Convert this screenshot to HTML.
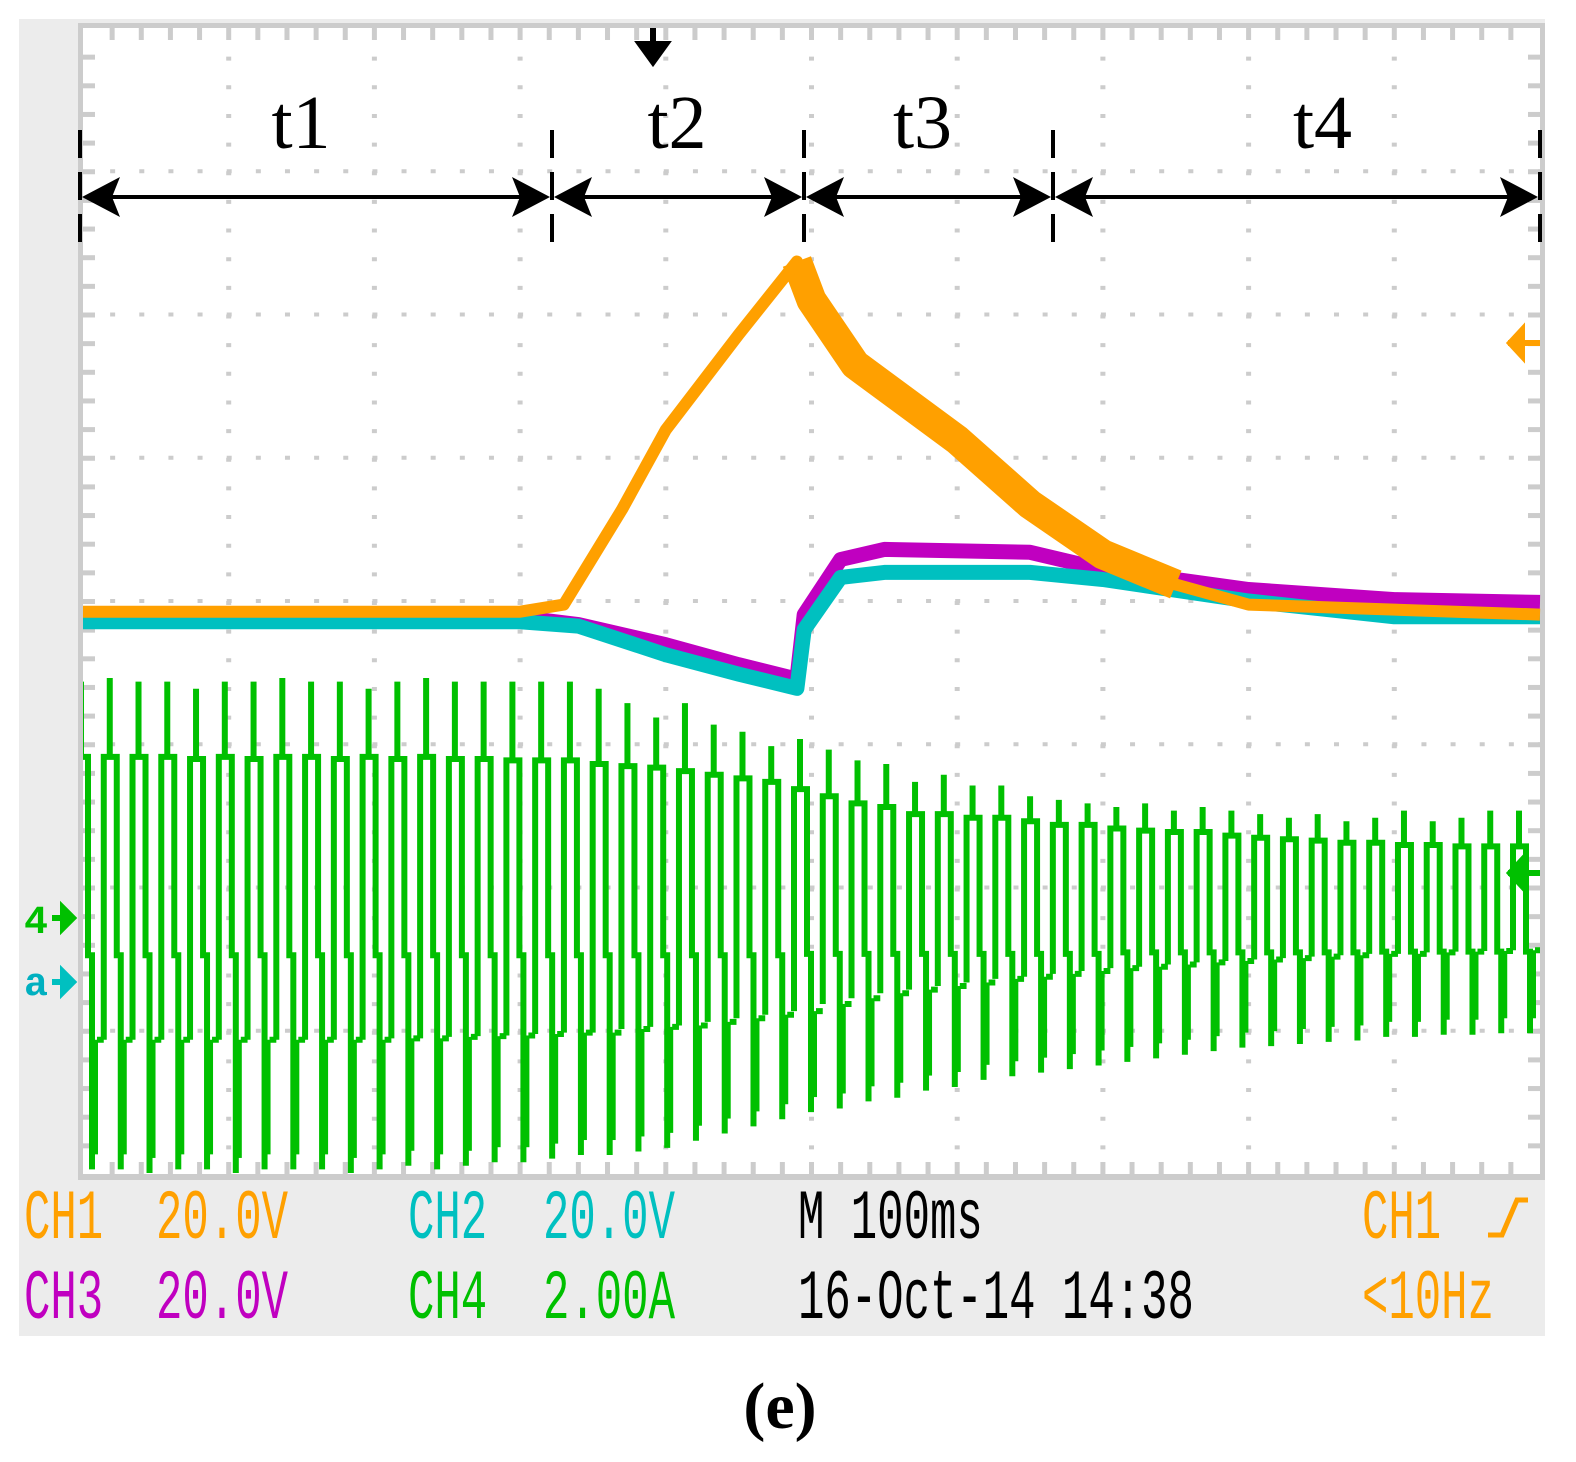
<!DOCTYPE html>
<html><head><meta charset="utf-8">
<style>
html,body{margin:0;padding:0;background:#fff;}
svg{display:block;}
.mono{font-family:"Liberation Mono",monospace;font-size:44px;}
</style></head>
<body>
<svg id="scope" width="1576" height="1462" viewBox="0 0 1576 1462" xmlns="http://www.w3.org/2000/svg">
  <rect x="19" y="19" width="1526" height="1317" fill="#ececec"/>
  <rect x="78" y="23" width="1467" height="1157" fill="#cccccc"/>
  <rect x="83" y="28" width="1457" height="1146" fill="#ffffff"/>
  <g id="grid"></g>
  <g id="traces"></g>
  <g id="annot"></g>

  <g>
    <g transform="translate(0,1238) scale(1,1.6)">
      <text class="mono" x="24" y="0" fill="#ffa000">CH1</text>
      <text class="mono" x="156" y="0" fill="#ffa000">20.0V</text>
      <text class="mono" x="408" y="0" fill="#00c0c0">CH2</text>
      <text class="mono" x="543" y="0" fill="#00c0c0">20.0V</text>
      <text class="mono" x="798" y="0" fill="#000">M 100ms</text>
      <text class="mono" x="1362" y="0" fill="#ffa000">CH1</text>
    </g>
    <path d="M1488,1235 H1502 L1517,1200 H1528" stroke="#ffa000" stroke-width="5" fill="none"/>
    <g transform="translate(0,1318) scale(1,1.6)">
      <text class="mono" x="24" y="0" fill="#c000c0">CH3</text>
      <text class="mono" x="156" y="0" fill="#c000c0">20.0V</text>
      <text class="mono" x="408" y="0" fill="#00c000">CH4</text>
      <text class="mono" x="543" y="0" fill="#00c000">2.00A</text>
      <text class="mono" x="798" y="0" fill="#000">16-Oct-14 14:38</text>
      <text class="mono" x="1362" y="0" fill="#ffa000">&lt;10Hz</text>
    </g>
  </g>
  <text x="780" y="1428" text-anchor="middle" font-family="Liberation Serif,serif" font-size="66" font-weight="bold">(e)</text>
</svg>
<script>
// ---- data ----
const orangeT = [0, 300, 330, 370, 400, 450, 490, 500, 530, 600, 650, 700, 750, 800, 1000];
const orangeV = [-1.5, -1.5, -0.5, 12.8, 23.9, 37.2, 47.4, 42, 33, 22.5, 13.5, 6.5, 2.3, -0.5, -1.9];
const magentaT = [0, 300, 340, 400, 450, 490, 495, 520, 550, 650, 700, 800, 900, 1000];
const magentaV = [-2.3, -2.3, -3.3, -6.1, -8.9, -10.9, -1.9, 5.8, 7.2, 6.8, 4.4, 1.6, 0.2, -0.2];
const cyanT = [0, 300, 340, 400, 450, 490, 495, 520, 550, 650, 700, 800, 900, 1000];
const cyanV = [-2.9, -2.9, -3.5, -7.5, -10.2, -12.2, -4, 3.3, 4.0, 4.0, 3.0, 0.0, -2.2, -2.2];
// CH4 per-cycle levels (A)
const greenTop = [3.3,3.35,3.3,3.3,3.2,3.3,3.3,3.35,3.3,3.3,3.2,3.3,3.35,3.3,3.3,3.3,3.3,3.3,3.2,3.0,2.8,3.0,2.7,2.6,2.4,2.5,2.35,2.2,2.15,1.9,2.0,1.85,1.85,1.7,1.65,1.6,1.55,1.6,1.5,1.55,1.5,1.45,1.4,1.45,1.35,1.4,1.5,1.35,1.4,1.5,1.5];
const greenHigh = [2.25,2.25,2.25,2.25,2.22,2.25,2.22,2.25,2.25,2.22,2.25,2.22,2.25,2.22,2.22,2.2,2.2,2.2,2.15,2.12,2.1,2.05,2.0,1.95,1.9,1.8,1.7,1.6,1.55,1.45,1.45,1.4,1.4,1.35,1.3,1.3,1.25,1.22,1.2,1.2,1.15,1.12,1.1,1.08,1.05,1.05,1.02,1.02,1.0,1.0,1.0];
const greenMid = [-0.52,-0.52,-0.52,-0.52,-0.52,-0.52,-0.52,-0.52,-0.52,-0.52,-0.52,-0.52,-0.52,-0.52,-0.52,-0.52,-0.52,-0.52,-0.52,-0.52,-0.52,-0.52,-0.52,-0.52,-0.52,-0.5,-0.5,-0.5,-0.5,-0.5,-0.5,-0.5,-0.5,-0.5,-0.5,-0.5,-0.48,-0.48,-0.48,-0.48,-0.48,-0.48,-0.48,-0.48,-0.48,-0.47,-0.47,-0.47,-0.47,-0.47,-0.47];
const greenLow = [-1.7,-1.7,-1.7,-1.7,-1.7,-1.7,-1.7,-1.7,-1.7,-1.7,-1.7,-1.68,-1.68,-1.66,-1.65,-1.64,-1.62,-1.6,-1.6,-1.55,-1.52,-1.5,-1.45,-1.4,-1.35,-1.3,-1.2,-1.12,-1.05,-1.0,-0.95,-0.9,-0.85,-0.82,-0.78,-0.74,-0.7,-0.68,-0.65,-0.62,-0.6,-0.58,-0.56,-0.54,-0.52,-0.5,-0.5,-0.48,-0.47,-0.46,-0.45];
const greenBar = [-3.3,-3.3,-3.35,-3.3,-3.3,-3.35,-3.3,-3.3,-3.3,-3.35,-3.3,-3.25,-3.3,-3.25,-3.2,-3.2,-3.15,-3.1,-3.1,-3.05,-3.0,-2.9,-2.8,-2.7,-2.6,-2.5,-2.45,-2.35,-2.3,-2.2,-2.15,-2.05,-2.0,-1.95,-1.9,-1.85,-1.8,-1.75,-1.7,-1.65,-1.6,-1.58,-1.55,-1.52,-1.5,-1.45,-1.45,-1.42,-1.42,-1.4,-1.4];

// ---- scales ----
const X0 = 83, X1 = 1540, Y0 = 28, Y1 = 1174;
const divW = (X1 - X0) / 10, divH = (Y1 - Y0) / 8;
const xScale = t => X0 + t / 100 * divW;
const yVolt = v => (Y0 + Y1) / 2 - v / 20 * divH;
const yAmp = a => 918 - a / 2 * divH;
const NS = "http://www.w3.org/2000/svg";
function mk(tag, attrs, parent) {
  const e = document.createElementNS(NS, tag);
  for (const k in attrs) e.setAttribute(k, attrs[k]);
  parent.appendChild(e);
  return e;
}

// ---- grid ----
const grid = document.getElementById('grid');
for (let i = 1; i < 10; i++) {
  const x = X0 + i * divW;
  const l = mk('line', {x1: x, y1: Y0 + divH / 5, x2: x, y2: Y1, stroke: '#cccccc', 'stroke-width': 5, 'stroke-dasharray': '4 ' + (divH / 5 - 4)}, grid);
  
  
}
for (let j = 1; j < 8; j++) {
  const y = Y0 + j * divH;
  const l = mk('line', {x1: X0 + divW / 5 - 2, y1: y, x2: X1, y2: y, stroke: '#cccccc', 'stroke-width': 4, 'stroke-dasharray': '5 ' + (divW / 5 - 5)}, grid);
  
  
}
for (let i = 1; i < 50; i++) {
  const x = X0 + i * divW / 5;
  mk('rect', {x: x - 2.5, y: Y0, width: 5, height: 12, fill: '#cccccc'}, grid);
  mk('rect', {x: x - 2.5, y: Y1 - 12, width: 5, height: 12, fill: '#cccccc'}, grid);
}
for (let j = 1; j < 40; j++) {
  const y = Y0 + j * divH / 5;
  mk('rect', {x: X0, y: y - 2, width: 12, height: 5, fill: '#cccccc'}, grid);
  mk('rect', {x: X1 - 12, y: y - 2, width: 12, height: 5, fill: '#cccccc'}, grid);
}

// ---- traces ----
const traces = document.getElementById('traces');
function pathFrom(T, V, ys) {
  return T.map((t, i) => (i ? 'L' : 'M') + xScale(t).toFixed(1) + ',' + ys(V[i]).toFixed(1)).join(' ');
}
const gG = mk('g', {}, traces);


const clip = mk('clipPath', {id: 'pc'}, traces);
mk('rect', {x: X0, y: Y0, width: X1 - X0, height: Y1 - Y0}, clip);
gG.setAttribute('clip-path', 'url(#pc)');
const period = 28.76;
let gd = '';
for (let k = 0; k < greenTop.length; k++) {
  const s = 81 + period * k;
  const T = yAmp(greenTop[k]), U = yAmp(greenHigh[k]), M = yAmp(greenMid[k]), L = yAmp(greenLow[k]), B = yAmp(greenBar[k]);
  gd += `M${s - 6},${L} V${U} H${s + 7} V${M} H${s + 11} V${B + 15} `;
  gd += `M${s},${U} V${T} `;
  gd += `M${s + 16},${L} H${s + period - 6} `;
  const r = mk('rect', {x: s + 9, y: L, width: 8, height: B - L, fill: '#00c000'}, gG);
  
  
}
mk('path', {d: gd, stroke: '#00c000', 'stroke-width': 6, fill: 'none'}, gG);

const mag = mk('path', {d: pathFrom(magentaT, magentaV, yVolt), stroke: '#c000c0', 'stroke-width': 15, fill: 'none', 'stroke-linejoin': 'round'}, traces);


const cy = mk('path', {d: pathFrom(cyanT, cyanV, yVolt), stroke: '#00c0c0', 'stroke-width': 15, fill: 'none', 'stroke-linejoin': 'round'}, traces);


const orW = mk('path', {d: pathFrom(orangeT.slice(6, 13), orangeV.slice(6, 13), yVolt), stroke: '#ffa000', 'stroke-width': 30, fill: 'none', 'stroke-linejoin': 'round'}, traces);


const or = mk('path', {d: pathFrom(orangeT, orangeV, yVolt), stroke: '#ffa000', 'stroke-width': 12, fill: 'none', 'stroke-linejoin': 'round'}, traces);



const mkText = (txt, x, y, fill, name, size) => {
  const t = mk('text', {x: x, y: y, fill: fill, 'font-family': 'Liberation Mono,monospace', 'font-size': size || 40, 'font-weight': 'bold'}, traces);
  t.textContent = txt;
  
  
};
mkText('4', 24, 933, '#00c000', 'ch4-ground-label');
mk('path', {d: 'M52,918 H74 M63,908 L73,918 L63,928 Z', stroke: '#00c000', 'stroke-width': 6, fill: '#00c000'}, traces);
mkText('a', 24, 995, '#00b0c0', 'ch2-ground-label');
mk('path', {d: 'M52,982 H74 M63,972 L73,982 L63,992 Z', stroke: '#00c0c0', 'stroke-width': 6, fill: '#00c0c0'}, traces);
mk('path', {d: 'M1508,343 H1540 M1522,330 L1510,343 L1522,356 Z', stroke: '#ffa000', 'stroke-width': 6, fill: '#ffa000'}, traces);
mk('path', {d: 'M1508,873 H1540 M1522,860 L1510,873 L1522,886 Z', stroke: '#00c000', 'stroke-width': 6, fill: '#00c000'}, traces);
mk('path', {d: 'M653,28 V60 M640,44 L666,44 L653,62 Z M640,44 H666', stroke: '#000', 'stroke-width': 6, fill: '#000'}, traces);

// ---- annotations ----
const annot = document.getElementById('annot');
const bounds = [80, 552, 804, 1053, 1540];
const labels = ['t1', 't2', 't3', 't4'];
bounds.forEach(x => {
  const l = mk('line', {x1: x, y1: 130, x2: x, y2: 256, stroke: '#000', 'stroke-width': 4, 'stroke-dasharray': '28 14'}, annot);
  
  
});
for (let i = 0; i < 4; i++) {
  const a = bounds[i], b = bounds[i + 1], y = 197;
  const g = mk('g', {}, annot);
  
  
  mk('line', {x1: a + 10, y1: y, x2: b - 10, y2: y, stroke: '#000', 'stroke-width': 4}, g);
  mk('path', {d: `M${a + 2},${y} L${a + 40},${y - 20} L${a + 32},${y} L${a + 40},${y + 20} Z`, fill: '#000'}, g);
  mk('path', {d: `M${b - 2},${y} L${b - 40},${y - 20} L${b - 32},${y} L${b - 40},${y + 20} Z`, fill: '#000'}, g);
  const t = mk('text', {x: (a + b) / 2 + [-15, -1, -6, 26][i], y: 148, 'text-anchor': 'middle', 'font-family': 'Liberation Serif,serif', 'font-size': 76}, g);
  t.textContent = labels[i];
  
  
}
</script>
</body></html>
